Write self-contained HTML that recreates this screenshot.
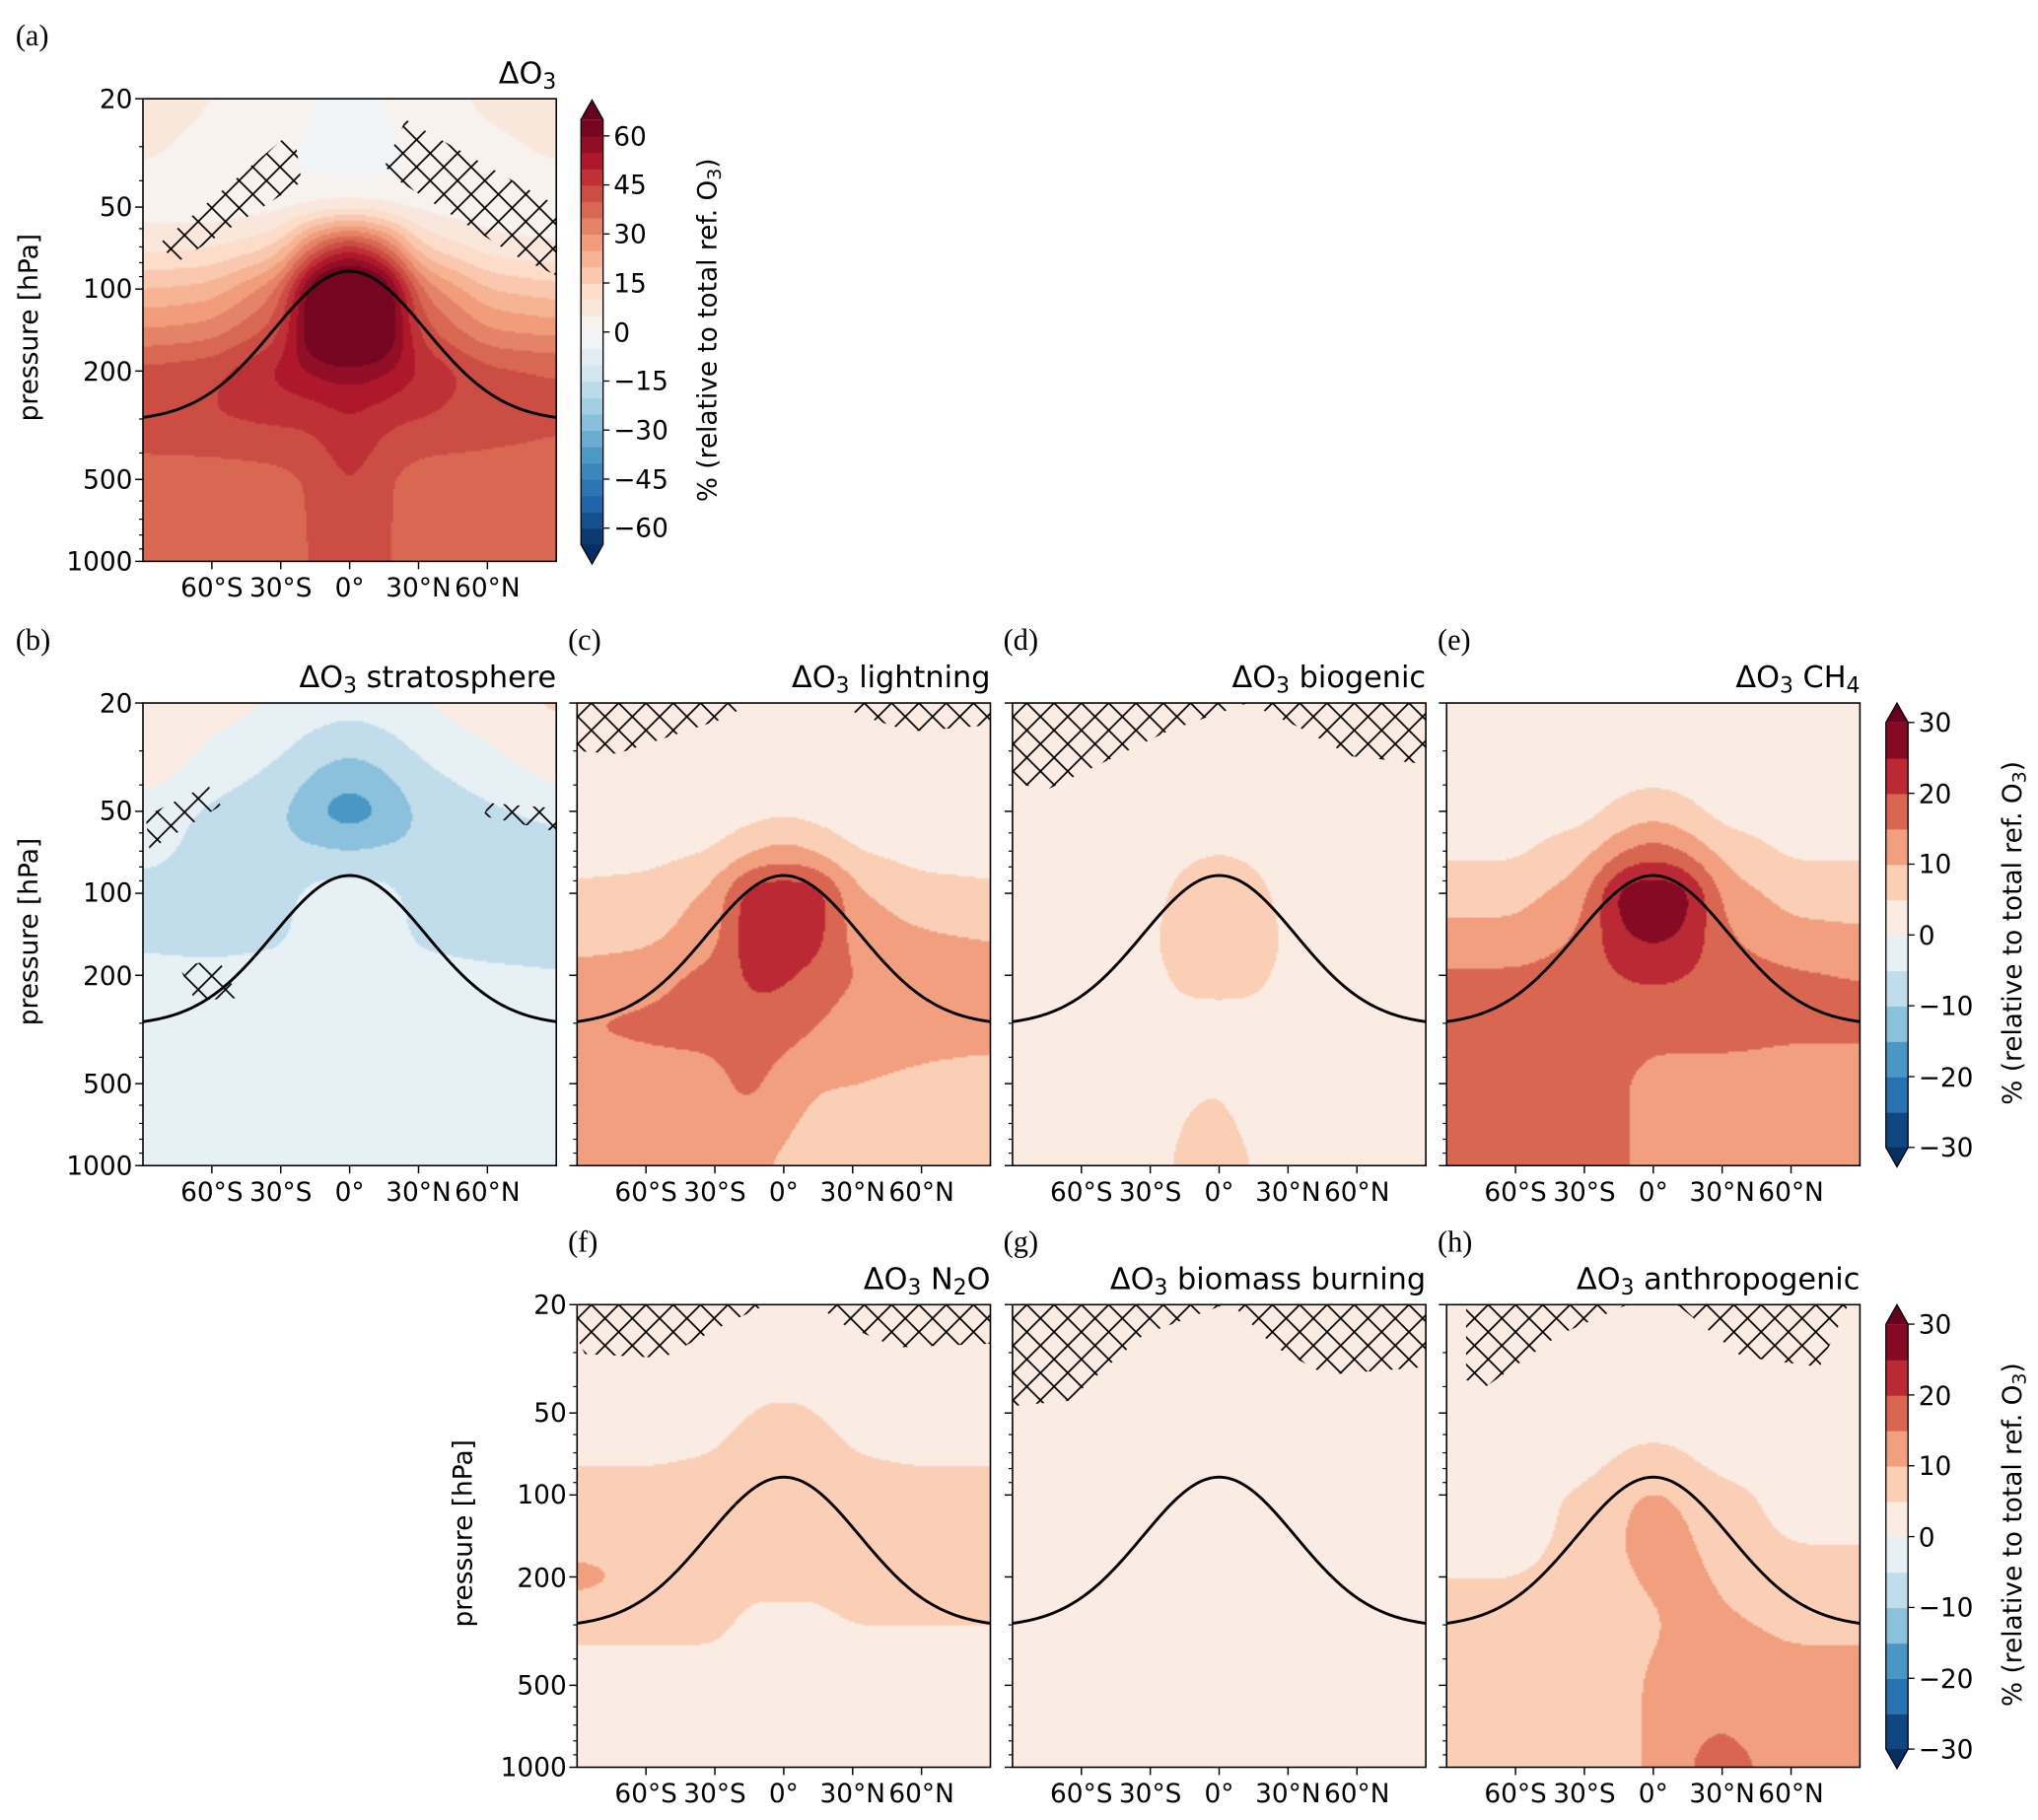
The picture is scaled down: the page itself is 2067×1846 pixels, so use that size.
<!DOCTYPE html>
<html><head><meta charset="utf-8">
<style>
html,body{margin:0;padding:0;background:#fff;overflow:hidden}
#root{position:absolute;left:0;top:0;width:1568px;height:1400.6px;transform:scale(1.31824,1.31802);transform-origin:0 0;font-family:"DejaVu Sans","Liberation Sans",sans-serif;color:#000}
.t{position:absolute;white-space:nowrap;line-height:1}
.pl{font-family:"Liberation Serif","DejaVu Serif",serif;font-size:23px}
canvas{position:absolute}
sub{font-size:0.72em;vertical-align:-0.25em;line-height:0}
</style></head><body>
<div id="root"></div>
<script>
// ---- data ----
const lats = [-90,-60,-30,-15,0,15,30,60,90];
const pres = [20,35,50,70,100,150,200,300,500,1000];
const fieldTotal = [
 [8,5,3,0,-1,0,3,6,8],
 [5,3,1,-2,-2,-2,1,3,5],
 [3,2,3,5,6,5,3,2,2],
 [8,9,15,38,50,38,15,7,5],
 [20,22,35,72,80,72,35,20,17],
 [32,34,44,70,74,70,44,32,30],
 [42,44,52,56,58,56,50,42,40],
 [44,45,46,46,50,46,45,43,41],
 [37,37,38,41,46,41,37,37,37],
 [35,35,36,41,46,41,36,36,36]];
const fieldStrat = [
 [5,2,0,-2,-3,-2,0,3,6],
 [3,-2,-6,-10,-12,-10,-6,-2,2],
 [-2,-6,-9,-15,-19,-15,-9,-6,-3],
 [-3,-7,-9,-9,-10,-9,-9,-9,-8],
 [-7,-8,-7,-3,-2,-3,-7,-9,-10],
 [-6,-7,-6,-2,-1,-2,-6,-8,-9],
 [-3,-3,-2,-1,-1,-1,-2,-3,-4],
 [-1,-1,-1,-1,-1,-1,-1,-1,-1],
 [-1,-1,-1,-1,-1,-1,-1,-1,-1],
 [-1,-1,-1,-1,-1,-1,-1,-1,-1]];
const fieldLightning = [
 [2,2,2,2,2,2,2,2,2],
 [2,2,2,2,2,2,2,2,2],
 [2,2,2,3,4,3,2,2,2],
 [3,3,5,9,12,9,5,3,3],
 [6,7,11,24,24,24,11,7,6],
 [8,9,13,24,24,22,13,11,10],
 [12,13,17,21,21,18,15,13,12],
 [15,16,17,19,18,15,13,12,12],
 [13,13,13,17,12,10,10,9,8],
 [12,12,12,11,9,8,8,8,8]];
const fieldBiogenic = [
 [2,2,2,2,2,2,2,2,2],
 [2,2,2,2,2,2,2,2,2],
 [2,2,2,2,2,2,2,2,2],
 [2,2,2,4,5,4,2,2,2],
 [2,2,3,7,8,7,3,2,2],
 [2,2,4,8,8,8,4,2,2],
 [2,2,3,7,7,7,3,2,2],
 [2,2,2,3,3,3,2,2,2],
 [2,2,2,4,5,3,2,2,2],
 [2,2,2,7,7,5,2,2,2]];
const fieldCH4 = [
 [3,3,3,3,3,3,3,3,3],
 [3,3,3,3,3,3,3,3,3],
 [3,3,3,6,8,6,3,3,3],
 [4,4,8,14,18,14,8,4,4],
 [8,8,13,28,30,28,13,8,8],
 [12,12,16,24,26,24,16,12,11],
 [16,16,17,20,21,20,17,16,15],
 [17,17,17,17,17,17,17,16,16],
 [17,17,16,16,13,13,13,13,13],
 [17,17,17,16,13,13,13,13,13]];
const fieldN2O = [
 [3,3,3,3,3,3,3,3,3],
 [3,3,3,3,3,3,3,3,3],
 [3,3,3,5,6,5,3,3,3],
 [4,4,5,7,8,7,5,4,4],
 [7,7,7,8,9,8,7,7,7],
 [8,8,8,8,8,8,8,7,7],
 [12,9,7,6,6,6,7,7,7],
 [6,6,6,4,4,4,5,5,5],
 [3,3,3,3,3,3,3,3,3],
 [3,3,3,3,3,3,3,3,3]];
const fieldBiomass = [
 [2,2,2,2,2,2,2,2,2],[2,2,2,2,2,2,2,2,2],[2,2,2,2,2,2,2,2,2],[2,2,2,2,2,2,2,2,2],[2,2,2,2,2,2,2,2,2],
 [2,2,2,2,2,2,2,2,2],[2,2,2,2,2,2,2,2,2],[2,2,2,2,2,2,2,2,2],[2,2,2,2,2,2,2,2,2],[2,2,2,2,2,2,2,2,2]];
const fieldAnthro = [
 [2,2,2,2,2,2,2,2,2],
 [2,2,2,2,2,2,2,2,2],
 [2,2,2,2,3,2,2,2,2],
 [2,2,2,5,6,5,2,2,2],
 [3,3,6,9,11,9,7,3,3],
 [4,4,6,10,12,11,7,5,5],
 [5,5,6,9,11,12,9,6,6],
 [6,6,7,8,9,12,11,9,9],
 [7,7,7,8,11,13,13,12,12],
 [7,7,7,8,11,15,17,13,13]];
const yTicks = [20,50,100,200,500,1000];
const yMinor = [30,40,60,70,80,90,300,400,600,700,800,900];
const xTicks = [-60,-30,0,30,60];
const xTickLabels = ["60°S","30°S","0°","30°N","60°N"];
const cbTicksA = [60,45,30,15,0,-15,-30,-45,-60];
const cbTicksB = [30,20,10,0,-10,-20,-30];
const tropoEdgeP = 296, tropoPeakP = 86, tropoWidth = 47;

// ---- helpers ----
const root = document.getElementById('root');
const RdBu = ['#053061','#2166ac','#4393c3','#92c5de','#d1e5f0','#f7f7f7','#fddbc7','#f4a582','#d6604d','#b2182b','#67001f'];
function hex(h){return [parseInt(h.substr(1,2),16),parseInt(h.substr(3,2),16),parseInt(h.substr(5,2),16)];}
const RdBuRGB = RdBu.map(hex);
function cmap(t){t=Math.max(0,Math.min(1,t));const f=t*10;const i=Math.min(9,Math.floor(f));const r=f-i;const a=RdBuRGB[i],b=RdBuRGB[i+1];return [0,1,2].map(k=>Math.round(a[k]+(b[k]-a[k])*r));}
function rgb(c){return 'rgb('+c.join(',')+')';}
const P0=Math.log(20), PL=Math.log(1000/20);
const LPS=pres.map(Math.log);
function interp(field,lat,lp){
  let i=0;while(i<lats.length-2&&lat>lats[i+1])i++;
  const fx=Math.max(0,Math.min(1,(lat-lats[i])/(lats[i+1]-lats[i])));
  let j=0;while(j<pres.length-2&&lp>LPS[j+1])j++;
  const fy=Math.max(0,Math.min(1,(lp-LPS[j])/(LPS[j+1]-LPS[j])));
  const a=field[j][i],b=field[j][i+1],c=field[j+1][i],d=field[j+1][i+1];
  return (a*(1-fx)+b*fx)*(1-fy)+(c*(1-fx)+d*fx)*fy;
}
function blur1(arr,w,h,r,horiz){
  const out=new Float32Array(arr.length);
  if(horiz){for(let y=0;y<h;y++)for(let x=0;x<w;x++){let s=0,n=0;for(let k=-r;k<=r;k++){const xx=Math.max(0,Math.min(w-1,x+k));s+=arr[y*w+xx];n++;}out[y*w+x]=s/n;}}
  else{for(let x=0;x<w;x++)for(let y=0;y<h;y++){let s=0,n=0;for(let k=-r;k<=r;k++){const yy=Math.max(0,Math.min(h-1,y+k));s+=arr[yy*w+x];n++;}out[y*w+x]=s/n;}}
  return out;
}
function el(tag,name,inter,style,html){
  const e=document.createElement(tag);
  
  
  if(style)e.style.cssText=style;
  if(html!==undefined)e.innerHTML=html;
  root.appendChild(e);return e;
}
const W=318,H=356;
const SX=1.31824,SY=1.31802;
function drawPanel(id,x0,y0,field,vmin,step,nb,title,label,showY,hatch){
  const cw=Math.round(W*SX/2),ch=Math.round(H*SY/2);
  const cv=el('canvas','contour-field-'+id,'false','left:'+x0+'px;top:'+y0+'px;width:'+W+'px;height:'+H+'px;image-rendering:auto');
  cv.width=cw;cv.height=ch;
  const ctx=cv.getContext('2d');const img=ctx.createImageData(cw,ch);
  let vals=new Float32Array(cw*ch);
  for(let py=0;py<ch;py++){const lp=P0+(py+0.5)/ch*PL;
    for(let px=0;px<cw;px++){const lat=-90+180*(px+0.5)/cw;vals[py*cw+px]=interp(field,lat,lp);}}
  for(let p=0;p<3;p++){vals=blur1(vals,cw,ch,6,true);vals=blur1(vals,cw,ch,5,false);}
  for(let q=0;q<cw*ch;q++){
      let k=Math.floor((vals[q]-vmin)/step);k=Math.max(0,Math.min(nb-1,k));
      const c=cmap((k+0.5)/nb);const o=q*4;
      img.data[o]=c[0];img.data[o+1]=c[1];img.data[o+2]=c[2];img.data[o+3]=255;}
  ctx.putImageData(img,0,0);
  const ns='http://www.w3.org/2000/svg';
  const sv=document.createElementNS(ns,'svg');
  
  
  sv.setAttribute('width',W+20);sv.setAttribute('height',H+20);
  sv.style.cssText='position:absolute;left:'+(x0-10)+'px;top:'+y0+'px;overflow:visible';
  root.appendChild(sv);
  const X=lat=>10+(lat+90)/180*W;
  const Y=p=>(Math.log(p)-P0)/PL*H;
  let s='<defs><pattern id="hp'+id+'" width="21" height="21" patternUnits="userSpaceOnUse"><path d="M0,0L21,21M21,0L0,21M-1,20L1,22M20,-1L22,1" stroke="#000" stroke-width="1.3" fill="none"/></pattern><clipPath id="cp'+id+'"><rect x="10" y="0" width="'+W+'" height="'+H+'"/></clipPath></defs>';
  hatch.forEach((poly,k)=>{s+='<polygon clip-path="url(#cp'+id+')" fill="url(#hp'+id+')" points="'+poly.map(p=>(p[0]-x0+10)+','+(p[1]-y0)).join(' ')+'"/>';});
  const g90=Math.exp(-Math.pow(90/tropoWidth,2));
  const lE=Math.log(tropoEdgeP),lPk=Math.log(tropoPeakP);
  let d='';for(let lat=-90;lat<=90;lat+=1){const g=(Math.exp(-Math.pow(lat/tropoWidth,2))-g90)/(1-g90);const lp=lE+(lPk-lE)*g;d+=(lat==-90?'M':'L')+X(lat).toFixed(2)+','+((lp-P0)/PL*H).toFixed(2);}
  s+='<path d="'+d+'" stroke="#000" stroke-width="2.2" fill="none"/>';
  s+='<rect x="10" y="0" width="'+W+'" height="'+H+'" fill="none" stroke="#000" stroke-width="1.2"/>';
  yTicks.forEach(p=>{s+='<line x1="4" x2="10" y1="'+Y(p)+'" y2="'+Y(p)+'" stroke="#000" stroke-width="1.1"/>';});
  yMinor.forEach(p=>{s+='<line x1="7" x2="10" y1="'+Y(p)+'" y2="'+Y(p)+'" stroke="#000" stroke-width="0.9"/>';});
  xTicks.forEach(l=>{s+='<line x1="'+X(l)+'" x2="'+X(l)+'" y1="'+H+'" y2="'+(H+6)+'" stroke="#000" stroke-width="1.1"/>';});
  sv.innerHTML=s;
  xTicks.forEach((l,i)=>{const e=el('div','x-tick-label','false','left:'+(x0+(l+90)/180*W-40)+'px;top:'+(y0+H+10)+'px;width:80px;text-align:center;font-size:20px',xTickLabels[i]);e.className='t';});
  if(showY){
    yTicks.forEach(p=>{const e=el('div','y-tick-label','false','left:'+(x0-110)+'px;top:'+(y0+Y(p)-10)+'px;width:102px;text-align:right;font-size:20px',String(p));e.className='t';});
    const e=el('div','y-axis-title','false','left:'+(x0-188)+'px;top:'+(y0+H/2-12)+'px;width:200px;text-align:center;font-size:20px;transform:rotate(-90deg)','pressure [hPa]');e.className='t';
  }
  const t=el('div','panel-title','false','left:'+(x0+W-400)+'px;top:'+(y0-30)+'px;width:400px;text-align:right;font-size:23px',title);t.className='t';
  const lx=(id==='a'||id==='b')?x0-98:x0-7;
  const pl=el('div','panel-label','false','left:'+lx+'px;top:'+(y0-60)+'px;',label);pl.className='t pl';
}
function drawColorbar(id,x0,yTop,yBot,vmin,step,nb,ticks){
  const ns='http://www.w3.org/2000/svg';
  const sv=document.createElementNS(ns,'svg');
  
  
  const w=17,tip=15;
  sv.setAttribute('width',40);sv.setAttribute('height',yBot-yTop+2);
  sv.style.cssText='position:absolute;left:'+x0+'px;top:'+yTop+'px;overflow:visible';
  root.appendChild(sv);
  const b0=tip,b1=yBot-yTop-tip,bh=(b1-b0)/nb;
  let s='';
  for(let k=0;k<nb;k++){s+='<rect x="0" y="'+(b1-(k+1)*bh)+'" width="'+w+'" height="'+(bh+0.6)+'" fill="'+rgb(cmap((k+0.5)/nb))+'"/>';}
  s+='<polygon points="0,'+b0+' '+(w/2)+',0 '+w+','+b0+'" fill="'+rgb(cmap(1))+'"/>';
  s+='<polygon points="0,'+b1+' '+(w/2)+','+(yBot-yTop)+' '+w+','+b1+'" fill="'+rgb(cmap(0))+'"/>';
  s+='<polygon points="0,'+b0+' '+(w/2)+',0 '+w+','+b0+' '+w+','+b1+' '+(w/2)+','+(yBot-yTop)+' 0,'+b1+'" fill="none" stroke="#000" stroke-width="1"/>';
  const vmax=vmin+step*nb;
  const Yv=v=>b1-(v-vmin)/(vmax-vmin)*(b1-b0);
  ticks.forEach(v=>{s+='<line x1="'+w+'" x2="'+(w+5)+'" y1="'+Yv(v)+'" y2="'+Yv(v)+'" stroke="#000" stroke-width="1"/>';});
  sv.innerHTML=s;
  ticks.forEach(v=>{const e=el('div','colorbar-tick-label','false','left:'+(x0+w+8)+'px;top:'+(yTop+Yv(v)-10)+'px;font-size:20px',(v<0?'\u2212':'')+Math.abs(v));e.className='t';});
  const c=(yTop+yBot)/2;
  const e=el('div','colorbar-title','false','left:'+(x0+w+80-170)+'px;top:'+(c-12)+'px;width:340px;text-align:center;font-size:20px;transform:rotate(-90deg)','% (relative to total ref. O<sub>3</sub>)');e.className='t';
}
const D='\u0394O<sub>3</sub>';
drawPanel('a',110,76,fieldTotal,-65,5,26,D,'(a)',true,[
 [[122,188],[136,202],[232,140],[226,100]],
 [[312,92],[428,158],[428,212],[395,196],[308,140],[296,128]]]);
drawColorbar('a',447,77,434,-65,5,26,cbTicksA);
drawPanel('b',110,541,fieldStrat,-30,5,12,D+' stratosphere','(b)',true,[
 [[112,628],[160,604],[170,620],[115,654]],
 [[376,618],[428,622],[428,640],[372,628]],
 [[138,744],[168,738],[184,768],[150,770]]]);
drawPanel('c',444,541,fieldLightning,-30,5,12,D+' lightning','(c)',false,[
 [[444,541],[576,541],[560,552],[475,580],[444,578]],
 [[648,541],[762,541],[762,558],[700,563],[660,550]]]);
drawPanel('d',779,541,fieldBiogenic,-30,5,12,D+' biogenic','(d)',false,[
 [[779,541],[960,541],[900,562],[805,608],[779,602]],
 [[960,541],[1097,541],[1097,588],[1040,582],[1000,560]]]);
drawPanel('e',1113,541,fieldCH4,-30,5,12,D+' CH<sub>4</sub>','(e)',false,[]);
drawColorbar('e',1451,541,898,-30,5,12,cbTicksB);
drawPanel('f',444,1004,fieldN2O,-30,5,12,D+' N<sub>2</sub>O','(f)',true,[
 [[444,1004],[590,1004],[560,1018],[510,1045],[450,1042],[444,1030]],
 [[628,1004],[762,1004],[762,1034],[690,1037],[650,1020]]]);
drawPanel('g',779,1004,fieldBiomass,-30,5,12,D+' biomass burning','(g)',false,[
 [[779,1004],[942,1004],[880,1027],[822,1078],[779,1082]],
 [[948,1004],[1097,1004],[1097,1052],[1020,1058],[980,1036]]]);
drawPanel('h',1113,1004,fieldAnthro,-30,5,12,D+' anthropogenic','(h)',false,[
 [[1128,1004],[1252,1004],[1200,1027],[1142,1068],[1128,1062]],
 [[1290,1004],[1422,1004],[1400,1052],[1340,1044]]]);
drawColorbar('h',1451,1004,1361,-30,5,12,cbTicksB);
</script>
</body></html>
